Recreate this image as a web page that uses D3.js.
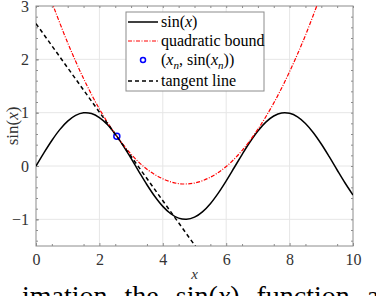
<!DOCTYPE html>
<html>
<head>
<meta charset="utf-8">
<script src="https://cdn.jsdelivr.net/npm/d3@7"></script>
<style>
  body { margin: 0; background: #fff; }
</style>
</head>
<body>
<div class="d3-container"></div>
<script>
// data
const sinX = d3.range(0, 41).map(i => i * 0.25);
const sinY = [0, 0.247, 0.479, 0.682, 0.841, 0.949, 0.997, 0.984, 0.909, 0.778,
  0.598, 0.382, 0.141, -0.108, -0.351, -0.572, -0.757, -0.895, -0.978, -0.999,
  -0.959, -0.859, -0.706, -0.508, -0.279, -0.033, 0.215, 0.450, 0.657, 0.823,
  0.938, 0.995, 0.989, 0.923, 0.798, 0.624, 0.412, 0.174, -0.075, -0.319, -0.544];

const quadX = [0.4, 0.5, 1.0, 1.5, 2.0, 2.5, 3.0, 3.5, 4.0, 4.5, 5.0, 5.5, 6.0, 6.5, 7.0, 7.5, 8.0, 8.5, 9.0];
const quadY = [3.23, 3.07, 2.31, 1.64, 1.07, 0.60, 0.22, -0.06, -0.24, -0.33, -0.32, -0.21, -0.01, 0.29, 0.69, 1.18, 1.77, 2.45, 3.23];

const pointX = [2.55];
const pointY = [0.56];

const tangentX = [0, 5.3];
const tangentY = [2.67, -1.73];

const xTicks = [0, 2, 4, 6, 8, 10];
const yTicks = [-1, 0, 1, 2, 3];

const width = 376;
const height = 296;
const margin = {top: 6, right: 23, bottom: 50, left: 36};
const serif = '"Liberation Serif"';

const svg = d3.select(".d3-container")
  .append("svg")
  .attr("width", width)
  .attr("height", height);

const x = d3.scaleLinear().domain([0, 10]).range([margin.left, width - margin.right]);
const y = d3.scaleLinear().domain([-1.5, 3]).range([height - margin.bottom, margin.top]);

svg.append("defs").append("clipPath").attr("id", "plot")
  .append("rect")
  .attr("x", x(0)).attr("y", y(3))
  .attr("width", x(10) - x(0)).attr("height", y(-1.5) - y(3));

// grid
svg.append("g").attr("stroke", "#e6e6e6").attr("stroke-width", 1)
  .selectAll("line").data(xTicks.slice(1, -1)).join("line")
  .attr("x1", d => x(d)).attr("x2", d => x(d))
  .attr("y1", y(3)).attr("y2", y(-1.5));
svg.append("g").attr("stroke", "#e6e6e6").attr("stroke-width", 1)
  .selectAll("line").data(yTicks.slice(0, -1)).join("line")
  .attr("x1", x(0)).attr("x2", x(10))
  .attr("y1", d => y(d)).attr("y2", d => y(d));

// axes, ticks inward on all sides
function styleAxis(g) {
  g.attr("font-size", 16);
  g.select(".domain").remove();
  g.selectAll("line").attr("stroke", "#8c8c8c");
  g.selectAll("text").attr("fill", "#333");
}
const plotH = y(-1.5) - y(3);
const plotW = x(10) - x(0);

svg.append("g")
  .attr("transform", `translate(0,${y(-1.5)})`)
  .call(d3.axisBottom(x).tickValues(xTicks).tickSize(-3).tickPadding(8).tickFormat(d3.format("d")))
  .call(styleAxis);
svg.append("g")
  .attr("transform", `translate(0,${y(-1.5)})`)
  .call(d3.axisBottom(x).tickValues(d3.range(0.5, 10, 1)).tickSize(-2).tickFormat(""))
  .call(styleAxis);
svg.append("g")
  .attr("transform", `translate(0,${y(3)})`)
  .call(d3.axisTop(x).tickValues(d3.range(0, 10.01, 0.5)).tickSize(-2).tickFormat(""))
  .call(styleAxis);

svg.append("g")
  .attr("transform", `translate(${x(0)},0)`)
  .call(d3.axisLeft(y).tickValues(yTicks).tickSize(-3).tickPadding(7).tickFormat(d3.format("d")))
  .call(styleAxis);
svg.append("g")
  .attr("transform", `translate(${x(0)},0)`)
  .call(d3.axisLeft(y).tickValues(d3.range(-1.4, 3, 0.2)).tickSize(-2).tickFormat(""))
  .call(styleAxis);
svg.append("g")
  .attr("transform", `translate(${x(10)},0)`)
  .call(d3.axisRight(y).tickValues(d3.range(-1.4, 3, 0.2)).tickSize(-2).tickFormat(""))
  .call(styleAxis);

// box
svg.append("rect")
  .attr("x", x(0)).attr("y", y(3))
  .attr("width", plotW).attr("height", plotH)
  .attr("fill", "none").attr("stroke", "#8c8c8c").attr("stroke-width", 1);

const line = d3.line().x(d => x(d[0])).y(d => y(d[1])).curve(d3.curveCatmullRom);
const plot = svg.append("g").attr("clip-path", "url(#plot)");

plot.append("path")
  .datum(sinX.map((v, i) => [v, sinY[i]]))
  .attr("d", line)
  .attr("fill", "none").attr("stroke", "#000").attr("stroke-width", 1.5);

plot.append("path")
  .datum(quadX.map((v, i) => [v, quadY[i]]))
  .attr("d", line)
  .attr("fill", "none").attr("stroke", "#ff0000").attr("stroke-width", 1.2)
  .attr("stroke-dasharray", "4,1.5,1,1.5");

plot.selectAll("circle").data(pointX.map((v, i) => [v, pointY[i]])).join("circle")
  .attr("cx", d => x(d[0])).attr("cy", d => y(d[1])).attr("r", 3)
  .attr("fill", "none").attr("stroke", "#0000ff").attr("stroke-width", 1.5);

plot.append("path")
  .datum(tangentX.map((v, i) => [v, tangentY[i]]))
  .attr("d", d3.line().x(d => x(d[0])).y(d => y(d[1])))
  .attr("fill", "none").attr("stroke", "#000").attr("stroke-width", 1.5)
  .attr("stroke-dasharray", "4,3");

// labels
svg.append("text")
  .attr("x", (x(0) + x(10)) / 2).attr("y", 279)
  .attr("text-anchor", "middle").attr("font-size", 15).attr("fill", "#333")
  .attr("font-style", "italic").text("x");

const yl = svg.append("text")
  .attr("transform", `translate(18,${(y(3) + y(-1.5)) / 2}) rotate(-90)`)
  .attr("text-anchor", "middle").attr("font-size", 17).attr("fill", "#333");
yl.append("tspan").text("sin(");
yl.append("tspan").attr("font-style", "italic").text("x");
yl.append("tspan").text(")");

// legend
const lg = svg.append("g");
lg.append("rect").attr("x", 126).attr("y", 12).attr("width", 138).attr("height", 79)
  .attr("fill", "#fff").attr("stroke", "#8c8c8c").attr("stroke-width", 1);

const rows = [22, 41, 60, 81];
lg.append("line").attr("x1", 128).attr("x2", 158).attr("y1", rows[0]).attr("y2", rows[0])
  .attr("stroke", "#000").attr("stroke-width", 1.5);
lg.append("line").attr("x1", 128).attr("x2", 158).attr("y1", rows[1]).attr("y2", rows[1])
  .attr("stroke", "#ff0000").attr("stroke-width", 1.2).attr("stroke-dasharray", "4,1.5,1,1.5");
lg.append("circle").attr("cx", 143).attr("cy", rows[2]).attr("r", 2.5)
  .attr("fill", "none").attr("stroke", "#0000ff").attr("stroke-width", 1.5);
lg.append("line").attr("x1", 128).attr("x2", 158).attr("y1", rows[3]).attr("y2", rows[3])
  .attr("stroke", "#000").attr("stroke-width", 1.5).attr("stroke-dasharray", "4,3");

function legText(yy) {
  return lg.append("text").attr("x", 161).attr("y", yy + 5)
    .attr("font-size", 16).attr("fill", "#000");
}
let t = legText(rows[0]);
t.append("tspan").text("sin(");
t.append("tspan").attr("font-style", "italic").text("x");
t.append("tspan").text(")");
legText(rows[1]).text("quadratic bound");
t = legText(rows[2]);
t.append("tspan").text("(");
t.append("tspan").attr("font-style", "italic").text("x");
t.append("tspan").attr("font-style", "italic").attr("font-size", 11).attr("dy", 4).text("n");
t.append("tspan").attr("dy", -4).text(", sin(");
t.append("tspan").attr("font-style", "italic").text("x");
t.append("tspan").attr("font-style", "italic").attr("font-size", 11).attr("dy", 4).text("n");
t.append("tspan").attr("dy", -4).text("))");
legText(rows[3]).text("tangent line");

// cropped caption line below the figure
const cap = svg.append("text").attr("x", 22).attr("y", 305)
  .attr("font-size", 28).attr("fill", "#000").attr("word-spacing", 10);
cap.append("tspan").text("imation the sin(");
cap.append("tspan").attr("font-style", "italic").text("x");
cap.append("tspan").text(") function and");

// serif everywhere (axis groups default to sans-serif)
svg.selectAll("text").style("font-family", serif);
</script>
</body>
</html>
